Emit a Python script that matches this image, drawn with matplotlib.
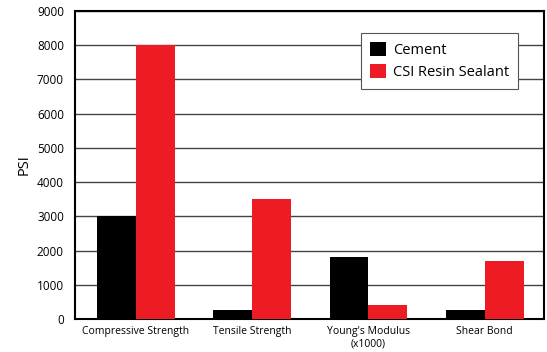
import numpy as np
from matplotlib import pyplot as plt

categories = ['Compressive Strength', 'Tensile Strength', "Young's Modulus\n(x1000)", 'Shear Bond']
cement = [3000, 250, 1800, 250]
csi_resin = [8000, 3500, 400, 1700]
series_names = ['Cement', 'CSI Resin Sealant']

plt.rcParams['font.family'] = ['Open Sans', 'DejaVu Sans']

fig = plt.figure(figsize=(5.47, 3.52), dpi=100)
ax = fig.add_axes([75 / 547, 1 - 319 / 352, 469 / 547, 308 / 352])

x = np.arange(len(categories))
w = 0.335
ax.bar(x - w / 2, cement, width=w, color='black', label=series_names[0], zorder=3)
ax.bar(x + w / 2, csi_resin, width=w, color='#ed1c24', label=series_names[1], zorder=3)

ax.set_xlim(-0.525, 3.51)
ax.set_ylim(0, 9000)
ax.set_yticks(np.arange(0, 9001, 1000))
ax.set_xticks(x)
ax.set_xticklabels(categories, fontsize=7.5)
ax.tick_params(axis='y', labelsize=8.5, length=0, pad=8)
ax.tick_params(axis='x', length=0, pad=5)
ax.set_ylabel('PSI', fontsize=10.5, labelpad=4)

ax.grid(axis='y', color='#444444', linewidth=1, zorder=0)
for s in ax.spines.values():
    s.set_linewidth(1.5)
    s.set_color('black')

leg = ax.legend(loc='upper right', bbox_to_anchor=(443 / 469, 1 - 22 / 308), fontsize=10.5,
                frameon=True, fancybox=False, handlelength=1.1, handleheight=1.1,
                borderpad=0.6, labelspacing=0.45, handletextpad=0.5, framealpha=1,
                borderaxespad=0)
leg.get_frame().set_edgecolor('#555555')
leg.get_frame().set_linewidth(0.8)
leg.set_zorder(5)

fig.savefig('out.png', dpi=100)
